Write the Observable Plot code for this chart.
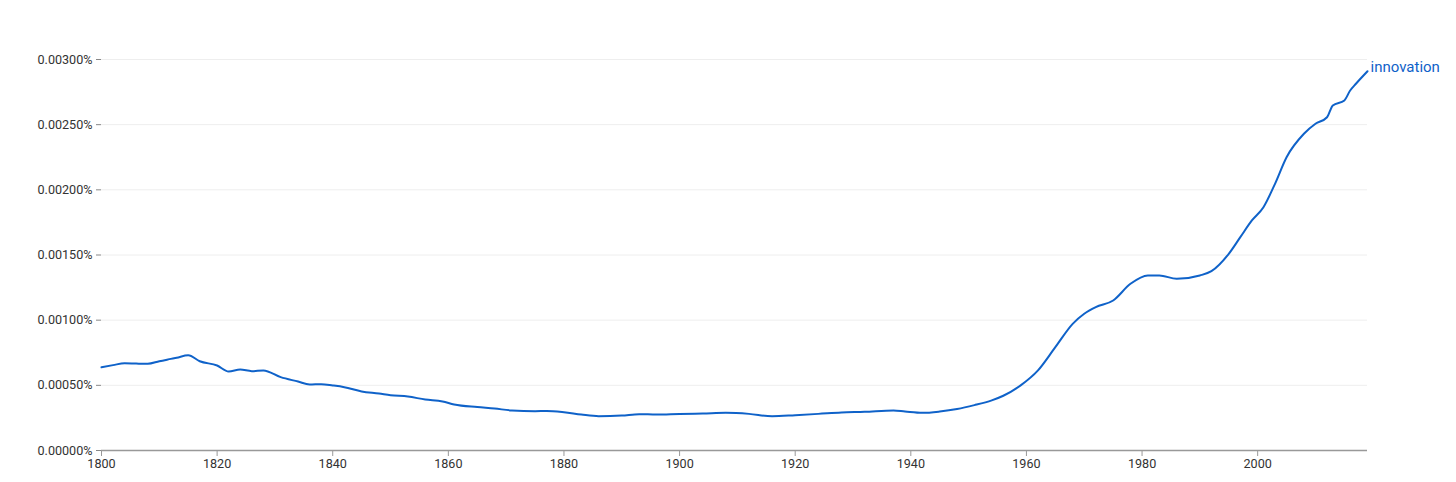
<!DOCTYPE html>
<html>
<head>
<meta charset="utf-8">
<script src="https://cdn.jsdelivr.net/npm/d3@7"></script>
<script src="https://cdn.jsdelivr.net/npm/@observablehq/plot@0.6"></script>
<style>
  html, body { margin: 0; padding: 0; background: #fff; }
  #chart svg { display: block; }
</style>
</head>
<body>
<div id="chart"></div>
<script>
const seriesName = "innovation";
const years = [1800,1802,1804,1806,1808,1810,1812,1813,1815,1817,1820,1822,1824,1826,1828,1831,1834,1836,1838,1840,1842,1845,1848,1850,1853,1856,1859,1861,1865,1868,1871,1875,1877,1880,1883,1886,1890,1893,1896,1900,1904,1908,1912,1916,1920,1924,1928,1932,1937,1939,1942,1945,1948,1951,1954,1956,1959,1962,1965,1968,1970,1972,1975,1978,1981,1983,1986,1990,1992,1995,1997,1999,2001,2003,2005,2008,2010,2012,2013,2015,2016,2017,2019];
const values = [0.000639,0.000655,0.00067,0.000667,0.000665,0.000685,0.000703,0.000712,0.000731,0.000685,0.000652,0.000606,0.000621,0.000609,0.000614,0.000563,0.000529,0.000506,0.000509,0.000499,0.000486,0.000453,0.000437,0.000424,0.000414,0.000391,0.000376,0.000353,0.000333,0.000322,0.000307,0.000302,0.000304,0.000294,0.000276,0.000263,0.000268,0.000279,0.000276,0.000281,0.000284,0.000289,0.000281,0.000263,0.000271,0.000281,0.000292,0.000297,0.000307,0.000299,0.000289,0.000299,0.000318,0.000348,0.000385,0.00042,0.0005,0.000615,0.000793,0.000972,0.001049,0.0011,0.001151,0.001279,0.001343,0.001343,0.001317,0.001343,0.001376,0.001509,0.001637,0.001765,0.001867,0.002046,0.00225,0.00243,0.002507,0.002557,0.002647,0.002686,0.002762,0.002814,0.00291];
const xTicks = [1800,1820,1840,1860,1880,1900,1920,1940,1960,1980,2000];
const yTicks = [0,0.0005,0.001,0.0015,0.002,0.0025,0.003];

const data = years.map((y, i) => ({year: y, value: values[i]}));
const last = data[data.length - 1];
const lineColor = "#0f62c9";

const chart = Plot.plot({
  width: 1456,
  height: 482,
  marginLeft: 101,
  marginRight: 89,
  marginTop: 59,
  marginBottom: 32,
  style: {fontFamily: "Roboto, sans-serif", fontSize: "12.6px", color: "#333", background: "#fff"},
  x: {domain: [1800, 2019], label: null},
  y: {domain: [0, 0.003], label: null},
  marks: [
    Plot.gridY(yTicks, {stroke: "#eeeeee", strokeOpacity: 1}),
    Plot.axisY(yTicks, {tickFormat: d => d3.format(".5f")(d) + "%", tickSize: 5, tickPadding: 4, stroke: "#888", label: null}),
    Plot.ruleY([0], {stroke: "#999", strokeWidth: 1.5}),
    Plot.axisX(xTicks, {tickFormat: d => String(d), tickSize: 6, tickPadding: 3, stroke: "#999", label: null}),
    Plot.lineY(data, {x: "year", y: "value", stroke: lineColor, strokeWidth: 2, curve: "monotone-x"}),
    Plot.text([last], {x: "year", y: "value", text: () => seriesName, dx: 3, dy: -4, textAnchor: "start", fill: lineColor, fontSize: 15})
  ]
});
document.getElementById("chart").appendChild(chart);
</script>
</body>
</html>
